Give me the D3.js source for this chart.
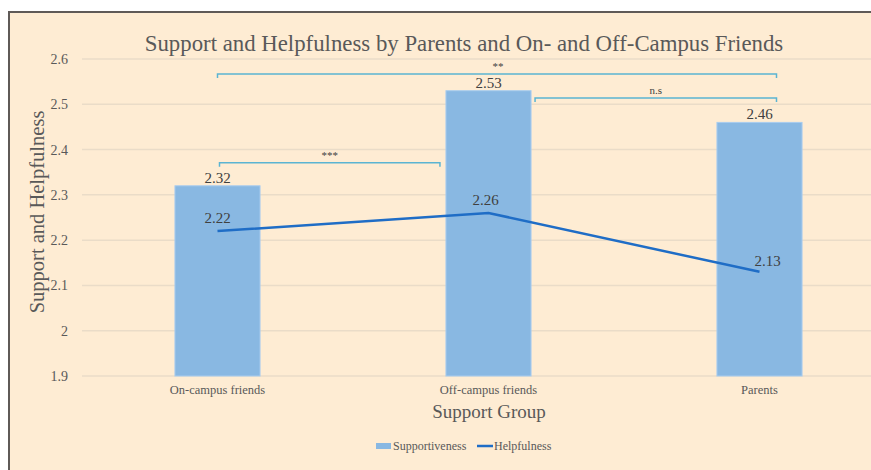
<!DOCTYPE html>
<html><head><meta charset="utf-8">
<script src="https://cdn.jsdelivr.net/npm/d3@7"></script>
<style>body{margin:0;background:#fff}svg{display:block}
svg text{font-family:"Liberation Serif","Times New Roman","DejaVu Serif",serif;}
</style>
</head><body>
<svg id="c" width="871" height="470"></svg>
<script>
const categories = ["On-campus friends", "Off-campus friends", "Parents"];
const supportiveness = [2.32, 2.53, 2.46];
const helpfulness = [2.22, 2.26, 2.13];
const yTicks = [1.9, 2, 2.1, 2.2, 2.3, 2.4, 2.5, 2.6];
const brackets = [
  {from: 0, to: 2, level: 2.567, label: "**"},
  {from: 1, to: 2, level: 2.514, label: "n.s"},
  {from: 0, to: 1, level: 2.371, label: "***"}
];

const svg = d3.select("#c");
const W = 871, H = 470;
const textCol = "#595959";

svg.append("rect").attr("x", 9).attr("y", 12).attr("width", W - 9).attr("height", H - 12).attr("fill", "#feecd3");
svg.append("path").attr("d", `M9,${H} V12 H${W}`).attr("fill", "none").attr("stroke", "#5f5a57").attr("stroke-width", 2);

const x = d3.scaleBand().domain(categories).range([82, 895]).paddingInner(0.686).paddingOuter(0.343);
const y = d3.scaleLinear().domain([1.9, 2.6]).range([376, 59]);

const clip = svg.append("defs").append("clipPath").attr("id", "clp");
clip.append("rect").attr("x", 0).attr("y", 0).attr("width", W).attr("height", H);

const g = svg.append("g").attr("clip-path", "url(#clp)");

// gridlines
g.selectAll(".grid").data(yTicks).join("line")
  .attr("x1", 82).attr("x2", 895)
  .attr("y1", d => y(d)).attr("y2", d => y(d))
  .attr("stroke", "#eadcc8").attr("stroke-width", 1.5);

// y axis
const yAxis = d3.axisLeft(y).tickValues(yTicks).tickSize(0).tickPadding(14).tickFormat(d => d3.format("")(+d.toFixed(1)));
const ya = svg.append("g").attr("transform", "translate(82,0)").call(yAxis);
ya.select(".domain").remove();
ya.selectAll("text").attr("font-size", 14).attr("fill", textCol);

// bars
g.selectAll(".bar").data(supportiveness).join("rect")
  .attr("x", (d, i) => x(categories[i]))
  .attr("width", x.bandwidth())
  .attr("y", d => y(d))
  .attr("height", d => y(1.9) - y(d))
  .attr("fill", "#89b8e2").attr("stroke", "#a9cdef").attr("stroke-width", 1);

// x axis
const xAxis = d3.axisBottom(x).tickSize(0).tickPadding(9);
const xa = svg.append("g").attr("transform", "translate(0,376)").call(xAxis);
xa.select(".domain").remove();
xa.selectAll("text").attr("font-size", 12.5).attr("fill", textCol);

// line
const cx = i => x(categories[i]) + x.bandwidth() / 2;
const line = d3.line().x((d, i) => cx(i)).y(d => y(d));
g.append("path").datum(helpfulness).attr("d", line)
  .attr("fill", "none").attr("stroke", "#1f6dc6").attr("stroke-width", 2.5);

// bar labels
svg.selectAll(".bl").data(supportiveness).join("text")
  .attr("x", (d, i) => cx(i)).attr("y", d => y(d) - 3)
  .attr("text-anchor", "middle").attr("font-size", 15)
  .attr("fill", "#404040").text(d => d.toFixed(2));

// line labels
const lOff = [[0, -8], [-3, -8], [8, -6]];
svg.selectAll(".ll").data(helpfulness).join("text")
  .attr("x", (d, i) => cx(i) + lOff[i][0]).attr("y", (d, i) => y(d) + lOff[i][1])
  .attr("text-anchor", "middle").attr("font-size", 15)
  .attr("fill", "#404040").text(d => d.toFixed(2));

// brackets
brackets.forEach(b => {
  let x1 = cx(b.from), x2 = cx(b.to) + (b.to === 2 ? 17 : 0);
  if (b.from === 1) x1 = x(categories[1]) + x.bandwidth() + 4;
  if (b.from === 0 && b.to === 1) { x1 = cx(0) + 2; x2 = x(categories[1]) - 6; }
  const yy = y(b.level);
  svg.append("path").attr("d", `M${x1},${yy + 4} V${yy} H${x2} V${yy + 4}`)
    .attr("fill", "none").attr("stroke", "#5bb4d2").attr("stroke-width", 1.5);
  svg.append("text").attr("x", (x1 + x2) / 2 + (b.to - b.from === 2 ? 1 : 0)).attr("y", yy - 4)
    .attr("text-anchor", "middle").attr("font-size", 11)
    .attr("fill", "#404040").text(b.label);
});

// title
svg.append("text").attr("x", 464).attr("y", 51).attr("text-anchor", "middle")
  .attr("font-size", 22.8).attr("fill", textCol)
  .text("Support and Helpfulness by Parents and On- and Off-Campus Friends");

// axis titles
svg.append("text").attr("transform", "translate(44,212) rotate(-90)").attr("text-anchor", "middle")
  .attr("font-size", 20.5).attr("fill", textCol)
  .text("Support and Helpfulness");
svg.append("text").attr("x", 489).attr("y", 418).attr("text-anchor", "middle")
  .attr("font-size", 19).attr("fill", textCol)
  .text("Support Group");

// legend
const lg = svg.append("g");
lg.append("rect").attr("x", 376).attr("y", 443).attr("width", 15).attr("height", 6).attr("fill", "#89b8e2");
lg.append("text").attr("x", 393).attr("y", 450).attr("font-size", 12).attr("fill", textCol).text("Supportiveness");
lg.append("line").attr("x1", 477).attr("x2", 493).attr("y1", 446).attr("y2", 446).attr("stroke", "#1f6dc6").attr("stroke-width", 2.5);
lg.append("text").attr("x", 494).attr("y", 450).attr("font-size", 12).attr("fill", textCol).text("Helpfulness");
</script>
</body></html>
